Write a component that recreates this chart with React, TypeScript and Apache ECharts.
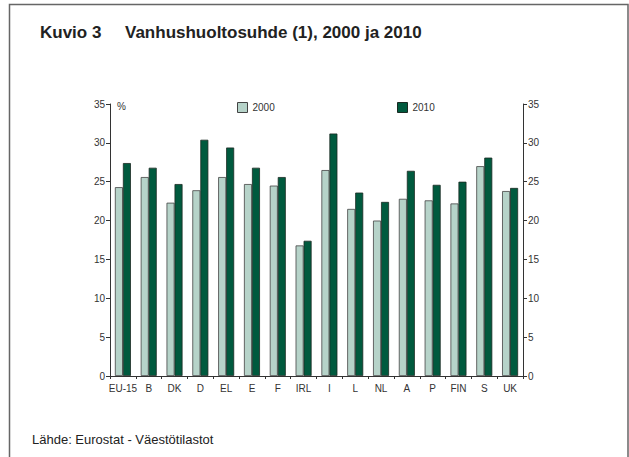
import React, { useEffect, useRef } from "react";
import * as echarts from "echarts";

const categories = ["EU-15", "B", "DK", "D", "EL", "E", "F", "IRL", "I", "L", "NL", "A", "P", "FIN", "S", "UK"];
const values2000 = [24.3, 25.6, 22.3, 23.9, 25.6, 24.7, 24.5, 16.8, 26.5, 21.5, 20.0, 22.8, 22.6, 22.2, 27.0, 23.8];
const values2010 = [27.4, 26.8, 24.7, 30.4, 29.4, 26.8, 25.6, 17.4, 31.2, 23.6, 22.4, 26.4, 24.6, 25.0, 28.1, 24.2];
const yTicks = { min: 0, max: 35, interval: 5 };
const titleText = "Kuvio 3     Vanhushuoltosuhde (1), 2000 ja 2010";
const sourceText = "Lähde: Eurostat - Väestötilastot";

export default function App() {
  const ref = useRef<HTMLDivElement>(null);
  useEffect(() => {
    if (!ref.current) return;
    const chart = echarts.init(ref.current, null, { renderer: "svg" });
    const font = "'Liberation Sans', 'DejaVu Sans', sans-serif";
    const axisCommon = {
      type: "value" as const,
      min: yTicks.min,
      max: yTicks.max,
      interval: yTicks.interval,
      splitLine: { show: false },
      axisLine: { show: true, lineStyle: { color: "#333", width: 1 } },
      axisTick: { show: true, length: 4, lineStyle: { color: "#333" } },
      axisLabel: { color: "#333", fontSize: 10, fontFamily: font, margin: 5 },
    };
    chart.setOption({
      animation: false,
      backgroundColor: "#fff",
      textStyle: { fontFamily: font },
      title: [
        {
          text: titleText,
          left: 35,
          top: 19,
          textStyle: { fontSize: 17, fontWeight: "bold", color: "#222", fontFamily: font },
        },
        {
          text: sourceText,
          left: 27,
          top: 428,
          textStyle: { fontSize: 13, fontWeight: "normal", color: "#222", fontFamily: font },
        },
      ],
      graphic: [
        {
          type: "rect",
          shape: { x: 9.5, y: 4.5, width: 618.5, height: 480 },
          style: { fill: "none", stroke: "#666", lineWidth: 1.5 },
          silent: true,
        },
        {
          type: "text",
          left: 117,
          top: 101,
          style: { text: "%", fontSize: 10, fill: "#333", fontFamily: font },
        },
      ],
      legend: [
        {
          data: ["2000"],
          left: 232,
          top: 97,
          icon: "rect",
          itemWidth: 10,
          itemHeight: 10,
          itemGap: 6,
          itemStyle: { borderColor: "#444", borderWidth: 1 },
          textStyle: { fontSize: 10, color: "#333", fontFamily: font },
        },
        {
          data: ["2010"],
          left: 392,
          top: 97,
          icon: "rect",
          itemWidth: 10,
          itemHeight: 10,
          itemGap: 6,
          itemStyle: { borderColor: "#1a2a22", borderWidth: 1 },
          textStyle: { fontSize: 10, color: "#333", fontFamily: font },
        },
      ],
      grid: { left: 110, right: 106, top: 104, bottom: 81, containLabel: false },
      xAxis: {
        type: "category",
        data: categories,
        boundaryGap: true,
        axisLine: { show: true, lineStyle: { color: "#333", width: 1 } },
        axisTick: { show: true, length: 3, alignWithLabel: false, lineStyle: { color: "#333" } },
        axisLabel: { color: "#333", fontSize: 10, fontFamily: font, margin: 7, interval: 0 },
      },
      yAxis: [
        { ...axisCommon, position: "left" },
        { ...axisCommon, position: "right" },
      ],
      series: [
        {
          name: "2000",
          type: "bar",
          data: values2000,
          barWidth: 8,
          barGap: "0%",
          itemStyle: { color: "#b6d3c9", borderColor: "#444", borderWidth: 0.8 },
        },
        {
          name: "2010",
          type: "bar",
          data: values2010,
          barWidth: 8,
          barGap: "0%",
          itemStyle: { color: "#005a3e", borderColor: "#1a2a22", borderWidth: 0.8 },
        },
      ],
    });
    return () => chart.dispose();
  }, []);
  return (
    <div
      ref={ref}
      style={{ position: "fixed", left: 0, top: 0, width: 629, height: 457 }}
    />
  );
}
